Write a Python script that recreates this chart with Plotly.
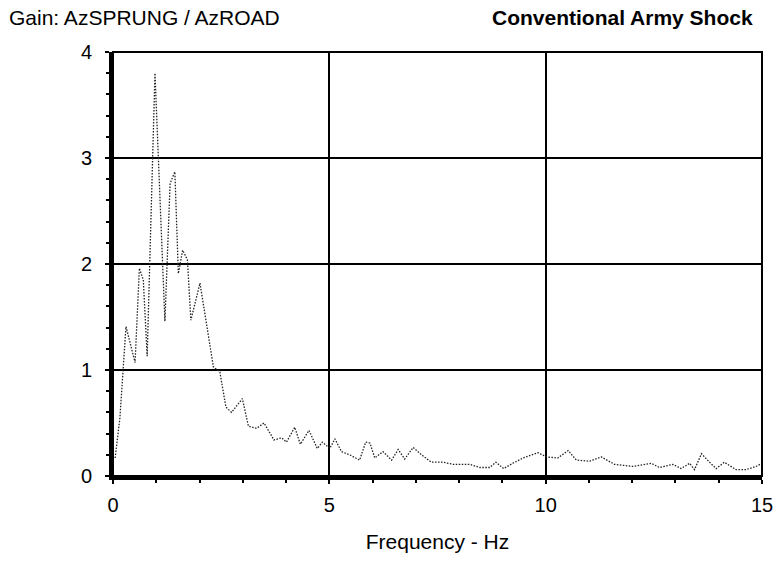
import plotly.graph_objects as go

freq = [0.05, 0.16, 0.30, 0.51, 0.61, 0.70, 0.79, 0.97, 1.20, 1.32, 1.43, 1.51, 1.61, 1.72, 1.80, 2.01,
        2.32, 2.47, 2.61, 2.74, 2.99, 3.13, 3.32, 3.49, 3.72, 3.90, 4.01, 4.20, 4.33, 4.53, 4.72,
        4.84, 5.01, 5.13, 5.28, 5.47, 5.70, 5.84, 5.94, 6.05, 6.24, 6.44, 6.59, 6.74, 6.94, 7.13,
        7.36, 7.63, 7.86, 8.24, 8.48, 8.71, 8.85, 9.03, 9.24, 9.48, 9.82, 10.02, 10.28, 10.52,
        10.71, 11.02, 11.29, 11.59, 12.02, 12.44, 12.63, 12.94, 13.13, 13.33, 13.44, 13.60, 13.79,
        13.94, 14.13, 14.40, 14.63, 14.86, 15.0]
gain = [0.17, 0.55, 1.41, 1.07, 1.96, 1.85, 1.13, 3.80, 1.46, 2.76, 2.87, 1.91, 2.13, 2.04, 1.47, 1.82,
        1.03, 0.98, 0.65, 0.60, 0.73, 0.47, 0.45, 0.50, 0.34, 0.36, 0.32, 0.46, 0.30, 0.43, 0.26,
        0.32, 0.26, 0.35, 0.23, 0.20, 0.15, 0.32, 0.31, 0.17, 0.23, 0.15, 0.25, 0.16, 0.27, 0.20,
        0.13, 0.13, 0.11, 0.11, 0.08, 0.08, 0.13, 0.07, 0.12, 0.17, 0.22, 0.18, 0.17, 0.24,
        0.15, 0.14, 0.18, 0.11, 0.09, 0.12, 0.08, 0.11, 0.07, 0.12, 0.06, 0.21, 0.13,
        0.07, 0.13, 0.06, 0.06, 0.09, 0.12]

x_ticks = [0, 5, 10, 15]
y_ticks = [0, 1, 2, 3, 4]

font = "Liberation Sans, Arial, sans-serif"

fig = go.Figure()
fig.add_trace(go.Scatter(x=freq, y=gain, mode="lines",
                         line=dict(color="#222222", width=1.3, dash="1.5px,1.5px"),
                         showlegend=False, hoverinfo="skip"))

fig.update_layout(
    width=779, height=566,
    margin=dict(l=113, r=17, t=52, b=90),
    paper_bgcolor="white", plot_bgcolor="white",
    font=dict(family=font, size=20, color="black"),
    xaxis=dict(range=[0, 15], tickvals=x_ticks, showgrid=True, gridcolor="black", gridwidth=2,
               zeroline=False, showline=True, linecolor="black", linewidth=4,
               ticks="outside", ticklen=4, tickwidth=2, tickcolor="black",
               minor=dict(dtick=1, ticks="outside", ticklen=3, tickwidth=2, tickcolor="black", showgrid=False),
               ticklabelstandoff=4, automargin=False,
               title=dict(text="Frequency - Hz", font=dict(size=21), standoff=20)),
    yaxis=dict(range=[0, 4], tickvals=y_ticks, showgrid=True, gridcolor="black", gridwidth=2,
               zeroline=False, showline=True, linecolor="black", linewidth=4,
               ticks="outside", ticklen=4, tickwidth=2, tickcolor="black",
               minor=dict(dtick=0.2, ticks="outside", ticklen=3, tickwidth=2, tickcolor="black", showgrid=False),
               ticklabelstandoff=9, automargin=False),
    shapes=[dict(type="rect", xref="paper", yref="paper", x0=0, y0=0, x1=1, y1=1,
                 line=dict(color="black", width=2), layer="above")],
    annotations=[
        dict(text="Gain: AzSPRUNG / AzROAD", xref="paper", yref="paper", x=-106/649, y=1 + 34/424,
             xanchor="left", yanchor="middle", showarrow=False, font=dict(size=21)),
        dict(text="<b>Conventional Army Shock</b>", xref="paper", yref="paper", x=1 - 7/649, y=1 + 34/424,
             xanchor="right", yanchor="middle", showarrow=False, font=dict(size=21)),
    ],
)

fig.write_html("out.html", config={"displayModeBar": False},
               post_script="document.body.style.margin='0';")
